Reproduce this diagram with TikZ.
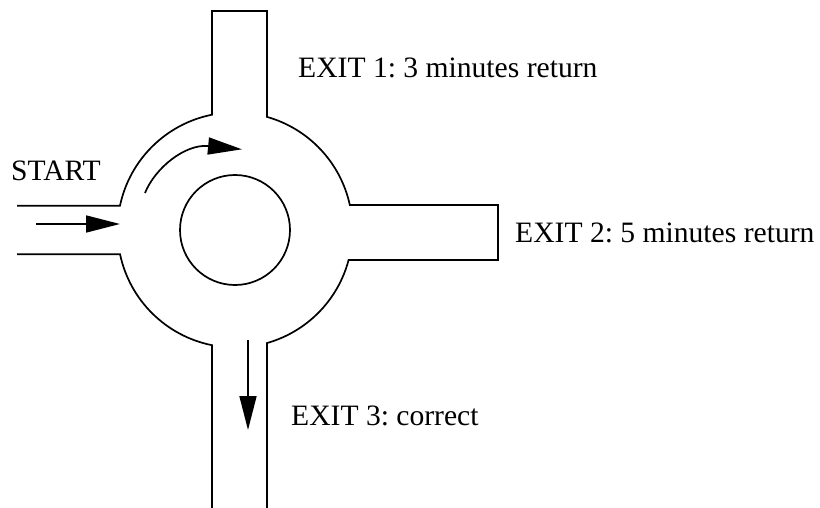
\documentclass[tikz,border=0pt]{standalone}
\usepackage{fontspec}
\setmainfont{Liberation Serif}
\usetikzlibrary{arrows.meta}
\frenchspacing
\begin{document}
\begin{tikzpicture}[x=1pt,y=-1pt,
  road/.style={line width=1.7pt, line join=miter},
  flow/.style={line width=1.7pt, -{Triangle[length=34pt,width=17pt]}},
  lbl/.style={anchor=base west, inner sep=0pt, font=\fontsize{29.6}{34}\selectfont}]
\useasboundingbox (0,0) rectangle (820,508);
% outer outline of roundabout with roads
\draw[road] (17,205.7) -- (120,205.7)
  arc[start angle=191.9, end angle=258.7, radius=117.5]
  |- (267,11) -- (267,116.9)
  arc[start angle=-74.2, end angle=-12.3, radius=117.5]
  -| (498,260) -- (348.6,260)
  arc[start angle=14.8, end angle=74.2, radius=117.5]
  -- (267,508);
\draw[road] (212,508) -- (212,345.2)
  arc[start angle=101.3, end angle=168.1, radius=117.5]
  -- (17,254.3);
% central island
\draw[road] (235,230) circle[radius=55];
% flow arrows
\coordinate (inA) at (36,224);
\coordinate (inB) at (120,224);
\draw[flow] (inA) -- (inB);
\coordinate (rA) at (145,193);
\coordinate (rB) at (208,146);
\coordinate (rC) at (242,149.3);
\draw[flow] (rA) .. controls (155,168) and (185,144) .. (rB) -- (rC);
\coordinate (oA) at (248,340);
\coordinate (oB) at (248,430);
\draw[flow] (oA) -- (oB);
% labels
\node[lbl] (start) at (11,181) {START};
\node[lbl] (exit1) at (298,78) {EXIT 1: 3 minutes return};
\node[lbl] (exit2) at (515,243) {EXIT 2: 5 minutes return};
\node[lbl] (exit3) at (291,425) {EXIT 3: correct};
\end{tikzpicture}
\end{document}
